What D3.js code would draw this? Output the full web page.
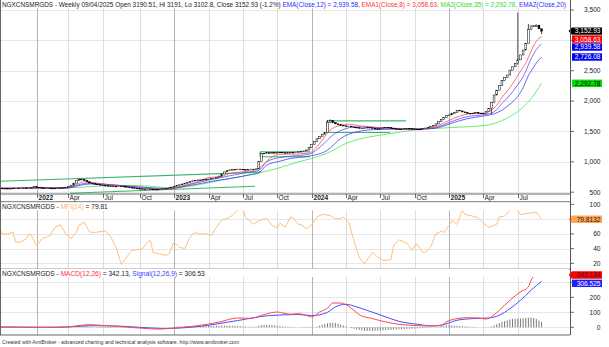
<!DOCTYPE html>
<html><head><meta charset="utf-8">
<script src="https://cdn.jsdelivr.net/npm/d3@7"></script>
<style>
html,body{margin:0;padding:0;background:#fff;}
svg{display:block;font-family:"Liberation Sans",Arial,sans-serif;}
</style></head><body>
<svg id="chart" width="609" height="347"></svg>
<script>
// ---- weekly data (first bar 2021-10-01, last bar 2025-09-04) ----
const closes = [
  565,560,562,558,561,566,568,565,570,573,568,571,576,
  590,582,575,570,566,568,565,562,566,570,568,575,580,
  592,615,650,690,705,712,695,672,650,640,632,625,618,
  612,608,603,600,597,595,600,596,590,585,578,572,566,
  560,556,552,549,553,550,547,545,548,552,556,562,572,
  585,598,610,622,635,648,662,676,688,696,702,700,708,
  712,718,725,732,740,765,800,835,855,868,872,876,880,
  878,872,868,875,880,876,884,1010,1135,1142,1150,1146,1152,
  1148,1154,1158,1150,1146,1152,1156,1150,1160,1166,1172,1180,1195,1240,
  1290,1335,1380,1420,1455,1480,1650,1680,
  1645,1625,1612,1600,1592,1582,1588,1575,1568,1562,1555,1550,1558,1566,1560,1552,1546,1540,
  1548,1560,1568,1562,1554,1546,1540,1534,1538,1544,1550,1546,1542,1538,1536,1534,1545,1556,1570,1585,
  1600,1625,1660,1700,1730,1760,1772,1800,1812,1850,1838,1822,1810,1798,1790,1802,1812,1800,1792,1800,1828,1880,
  1980,2100,2180,2260,2340,2390,2430,2510,2565,2620,2680,2760,2840,2950,3180,3240,3230,3250,3190.51,3152.93
];
const firstOpen = 562;
// weeks whose high / low reach beyond the body
const wickHighs = [[30,725],[31,722],[99,1150],[124,1690],[125,1700],[196,3460],[200,3270],[203,3262],[205,3191]];
const wickLows = [[98,880],[186,1790],[196,2600],[205,3102.8]];

// moving averages as [bar, value]
const ema8 = [[0,566],[6,563],[12,569],[16,576],[22,568],[26,575],[29,630],[32,670],[36,655],[40,628],[46,600],[52,575],[58,553],[64,555],[68,590],[74,660],[79,740],[84,760],[87,808],[94,846],[97,872],[99,930],[103,1082],[106,1125],[110,1126],[117,1145],[121,1302],[125,1522],[129,1604],[132,1620],[136,1595],[140,1576],[148,1550],[152,1545],[158,1541],[162,1550],[165,1580],[168,1640],[172,1720],[176,1780],[180,1800],[184,1805],[186,1850],[188,1930],[190,2060],[193,2220],[196,2420],[198,2560],[199,2620],[200,2720],[201,2820],[202,2909],[203,2985],[204,3031],[205,3058.63]];
const ema12 = [[0,566],[10,567],[16,574],[22,569],[26,572],[30,625],[34,650],[40,632],[46,607],[52,582],[58,560],[64,556],[70,610],[76,670],[79,698],[87,770],[94,830],[98,860],[101,1000],[106,1070],[110,1093],[117,1126],[122,1274],[126,1439],[130,1533],[135,1576],[143,1565],[148,1555],[158,1542],[162,1546],[165,1565],[168,1610],[172,1680],[176,1735],[180,1762],[184,1780],[186,1800],[188,1860],[190,1960],[193,2098],[196,2270],[198,2400],[199,2492],[200,2597],[201,2695],[202,2777],[203,2849],[204,2901],[205,2939.58]];
const ema20 = [[0,566],[10,567],[16,572],[22,569],[26,571],[30,610],[34,635],[40,628],[46,610],[52,590],[58,570],[64,560],[70,595],[79,670],[87,726],[94,780],[98,820],[101,945],[106,1010],[110,1055],[117,1093],[124,1192],[129,1385],[135,1494],[143,1533],[148,1536],[158,1540],[164,1550],[168,1590],[172,1650],[176,1700],[180,1735],[184,1760],[187,1790],[190,1850],[193,1950],[196,2080],[198,2220],[199,2320],[200,2420],[201,2492],[202,2563],[203,2628],[204,2681],[205,2726.08]];
const ma35 = [[0,560],[10,562],[20,568],[30,580],[40,605],[50,612],[56,600],[62,580],[66,572],[72,600],[84,698],[97,808],[105,890],[113,1000],[118,1055],[125,1165],[131,1302],[137,1385],[144,1439],[148,1467],[156,1520],[164,1548],[171,1565],[178,1580],[182,1592],[185,1610],[190,1680],[194,1770],[198,1900],[201,2040],[203,2160],[205,2292.78]];

// money flow index as [bar, value]
const mfi = [[0,67],[1,60],[3,60],[5,62.5],[6,49],[8,49],[10,53.5],[11,60],[12,58],[14,44],[16,53.5],[18,56],[19,58],[21,69],[23,72.4],[25,60],[27,53.5],[29,62.5],[30,71.5],[32,76],[34,62.5],[36,62],[40,64],[42,56],[44,42],[46,18.6],[48,28.5],[50,37.6],[54,40],[56,49],[57,51],[58,35],[60,33],[63,31],[64,33],[66,49],[68,42],[70,40],[72,56],[74,62.5],[75,60],[78,60],[80,58],[82,69],[84,79],[86,81],[88,85],[90,92],[92,94],[93,83],[96,73],[98,78],[101,81],[103,71.5],[105,68],[106,74.6],[108,69],[110,83],[111,82],[113,73],[114,73],[116,67],[118,72],[120,83],[122,86.4],[125,85],[127,80.6],[129,80.6],[130,83],[132,76],[134,51],[136,28.5],[138,19.6],[141,35],[143,28.5],[145,24],[148,25],[149,44],[151,52],[154,47.5],[156,37.6],[157,44],[158,46],[160,35],[161,35],[163,42],[165,60],[167,63.6],[168,62],[170,71.5],[171,78],[173,73],[175,92],[176,86.4],[178,85],[181,82],[183,74.6],[185,69],[188,73],[189,83],[191,84],[193,92],[195,95.5],[197,86.4],[200,88],[203,89.6],[205,79.81]];

// MACD(12,26) and Signal(12,26,9) as [bar, value]
const macd = [[0,2],[15,0],[26,3],[30,12],[34,18],[37,15],[45,5],[53,-5],[60,-12],[66,-5],[72,5],[75,11],[83,35],[90,62],[95,60],[100,85],[105,102],[110,87],[113,91],[116,80],[118,69],[121,102],[124,127],[126,162],[129,162],[131,151],[134,113],[136,84],[141,58],[146,36],[151,20],[156,13],[162,9],[167,13],[169,36],[173,58],[177,64],[181,62],[184,55],[185,60],[189,113],[193,180],[197,236],[200,269],[201,313],[203,347],[205,342.13]];
const signal = [[0,2],[22,0],[34,10],[41,10],[53,0],[62,-8],[68,-5],[75,5],[90,45],[102,78],[113,85],[118,78],[124,100],[127,136],[131,153],[135,136],[139,113],[145,76],[151,40],[158,20],[164,9],[168,18],[173,47],[179,58],[185,62],[189,80],[193,124],[197,180],[201,247],[205,306.53]];
// weekly MACD histogram
const macdHist = [
  0,1,0,-1,0,1,1,0,-1,0,0,1,1,0,-1,-1,0,0,1,0,0,-1,0,1,2,3,
  4,6,8,9,10,9,8,6,4,2,0,-2,-3,-4,-4,
  -4,-4,-3,-3,-2,-2,-2,-1,-1,-1,-2,-2,-3,-3,-3,-2,-2,-1,-1,0,0,0,1,1,
  2,3,4,5,5,6,6,6,7,7,8,8,9,9,9,10,10,10,10,10,11,11,11,10,10,9,
  8,6,5,4,3,3,5,10,14,16,16,15,14,12,10,8,6,5,4,3,2,1,
  0,-1,-2,-3,-3,-2,0,4,
  10,16,22,27,30,30,28,24,18,12,6,0,-5,
  -10,-14,-18,-21,-23,-24,-24,-24,-23,-22,-21,-20,-19,-18,-17,-16,-15,-14,-13,-12,-11,-10,-9,-8,-7,-6,-5,-4,-3,-2,
  0,2,5,8,10,12,12,11,10,9,8,7,6,5,4,3,2,1,0,-1,-2,-1,
  5,12,20,28,36,42,47,52,55,57,58,59,60,62,63,65,62,55,45,36
];

// user-drawn trend lines and ranges: [bar1, price1, bar2, price2]
const studyLines = [
  [0,681,99,830],
  [26.6,483,96.6,599],
  [98.5,1083,117.4,1083],[98.5,1165,117.4,1165],[98.5,1083,98.5,1165],
  [123.8,1675,153.7,1675],[123.8,1484,147.7,1484],[123.8,1484,123.8,1675]
];

const priceTicks = [500,1000,1500,2000,2500,3000,3500];
const mfiTicks = [20,40,60,80,100];
const macdTicks = [0,100,200,300];
// axis labels that sit under the value markers are not printed
const hiddenLabels = new Set(["p3000","m80","d300"]);
const monthNames = ["Jan","Feb","Mar","Apr","May","Jun","Jul","Aug","Sep","Oct","Nov","Dec"];

// ---- bar dates ----
const N = closes.length;
const DAY = 86400000;
const lastFriday = new Date(2025,7,29);
const dates = closes.map((c,i) => i === N-1 ? new Date(2025,8,4) : new Date(lastFriday.getTime() - 7*DAY*(N-2-i)));

// ---- layout ----
const W = 609, H = 347, R = 570;
const svg = d3.select("#chart");
const x = d3.scaleLinear().domain([0, N-1]).range([-0.3, 541.6]);
const yP = d3.scaleLinear().domain([500,3500]).range([192.2,10]);
const yM = d3.scaleLinear().domain([20,100]).range([263.4,204.4]);
const yD = d3.scaleLinear().domain([0,300]).range([327.3,282.3]);

const panels = {
  price:{top:0,bottom:194},
  mfi:{top:202,bottom:268.8},
  macd:{top:269.8,bottom:335}
};
const defs = svg.append("defs");
Object.entries(panels).forEach(([k,p]) => {
  defs.append("clipPath").attr("id","clip-"+k).append("rect")
    .attr("x",0).attr("y",p.top).attr("width",R).attr("height",p.bottom-p.top);
});

svg.append("rect").attr("width",W).attr("height",H).attr("fill","#fff");

// month ticks (quarters)
const qTicks = [];
for (let i = 1; i < N; i++) {
  const m = dates[i].getMonth();
  if (m !== dates[i-1].getMonth() && m % 3 === 0) {
    qTicks.push({i, year: m === 0, label: m === 0 ? String(dates[i].getFullYear()) : monthNames[m]});
  }
}

// grids
function grid(panel, scale, ticks) {
  const g = svg.append("g").attr("clip-path","url(#clip-"+panel+")");
  const p = panels[panel];
  g.selectAll("line.h").data(ticks).join("line")
    .attr("x1",0).attr("x2",R).attr("y1",d=>Math.round(scale(d))+0.5).attr("y2",d=>Math.round(scale(d))+0.5)
    .attr("stroke","#e6e6e6").attr("stroke-width",1);
  g.selectAll("line.v").data(qTicks).join("line")
    .attr("x1",d=>Math.round(x(d.i))+0.5).attr("x2",d=>Math.round(x(d.i))+0.5)
    .attr("y1",p.top).attr("y2",p.bottom)
    .attr("stroke",d=>d.year ? "#b4b4b4" : "#dedede").attr("stroke-width",1);
  return g;
}
const gP = grid("price", yP, priceTicks);
const gM = grid("mfi", yM, mfiTicks);
const gD = grid("macd", yD, macdTicks);

// study lines
gP.selectAll("line.study").data(studyLines).join("line")
  .attr("x1",d=>x(d[0])).attr("y1",d=>yP(d[1])).attr("x2",d=>x(d[2])).attr("y2",d=>yP(d[3]))
  .attr("stroke","#3cb371").attr("stroke-width",1.1);

// moving averages
const lineP = d3.line().x(d=>x(d[0])).y(d=>yP(d[1])).curve(d3.curveMonotoneX);
[[ma35,"#33e633"],[ema20,"#2b2bff"],[ema12,"#4040ff"],[ema8,"#ff3a3a"]].forEach(([s,c]) => {
  gP.append("path").attr("d",lineP(s)).attr("fill","none").attr("stroke",c).attr("stroke-width",0.9).attr("opacity",0.8);
});

// candles
const hiMap = new Map(wickHighs), loMap = new Map(wickLows);
const bars = closes.map((c,i) => {
  const o = i === 0 ? firstOpen : closes[i-1];
  const hi = hiMap.has(i) ? hiMap.get(i) : Math.max(o,c);
  const lo = loMap.has(i) ? loMap.get(i) : Math.min(o,c);
  return {i,o,c,hi,lo};
});
const gC = gP.append("g");
gC.selectAll("line.wick").data(bars).join("line")
  .attr("x1",d=>x(d.i)).attr("x2",d=>x(d.i)).attr("y1",d=>yP(d.hi)).attr("y2",d=>yP(d.lo))
  .attr("stroke","#000").attr("stroke-width",0.7);
gC.selectAll("rect.body").data(bars).join("rect")
  .attr("x",d=>x(d.i)-0.9).attr("width",1.8)
  .attr("y",d=>yP(Math.max(d.o,d.c)))
  .attr("height",d=>Math.max(0.6, yP(Math.min(d.o,d.c)) - yP(Math.max(d.o,d.c))))
  .attr("fill",d=>d.c >= d.o ? "#fff" : "#000").attr("stroke","#000").attr("stroke-width",0.5);

// MFI
gM.append("path").attr("d",d3.line().x(d=>x(d[0])).y(d=>yM(d[1]))(mfi))
  .attr("fill","none").attr("stroke","#ffbf82").attr("stroke-width",1);

// MACD
gD.selectAll("line.hist").data(macdHist).join("line")
  .attr("x1",(d,i)=>x(i)).attr("x2",(d,i)=>x(i)).attr("y1",yD(0)).attr("y2",d=>yD(d))
  .attr("stroke","#555").attr("stroke-width",0.8);
const lineD = d3.line().x(d=>x(d[0])).y(d=>yD(d[1])).curve(d3.curveMonotoneX);
gD.append("path").attr("d",lineD(signal)).attr("fill","none").attr("stroke","#4a4aff").attr("stroke-width",1);
gD.append("path").attr("d",lineD(macd)).attr("fill","none").attr("stroke","#ff4a4a").attr("stroke-width",1);

// date strip
svg.append("rect").attr("x",0).attr("y",194).attr("width",R).attr("height",7.8).attr("fill","#fff");
svg.selectAll("line.dtick").data(qTicks).join("line")
  .attr("x1",d=>Math.round(x(d.i))+0.5).attr("x2",d=>Math.round(x(d.i))+0.5).attr("y1",194).attr("y2",198)
  .attr("stroke","#444").attr("stroke-width",0.8);
svg.selectAll("text.dlab").data(qTicks).join("text")
  .attr("x",d=>Math.round(x(d.i))+1.5).attr("y",200.3)
  .attr("font-size",6.6).attr("font-weight",d=>d.year ? "bold" : "normal").attr("fill","#222")
  .text(d=>d.label);

// frame lines
const frame = [[0,194,R,194],[0,201.8,R,201.8],[0,269.2,R,269.2],[0,335,R,335],[0.5,0,0.5,335],[R+0.5,0,R+0.5,335]];
svg.selectAll("line.frame").data(frame).join("line")
  .attr("x1",d=>d[0]).attr("y1",d=>d[1]).attr("x2",d=>d[2]).attr("y2",d=>d[3])
  .attr("stroke","#555").attr("stroke-width",0.9);

// right axis
function axisLabels(scale, ticks, key, fmt) {
  svg.selectAll(null).data(ticks).join("line")
    .attr("x1",R).attr("x2",R+4).attr("y1",d=>scale(d)).attr("y2",d=>scale(d))
    .attr("stroke","#444").attr("stroke-width",0.8);
  svg.selectAll(null).data(ticks.filter(d => !hiddenLabels.has(key+d))).join("text")
    .attr("x",600.5).attr("y",d=>scale(d)+2.3).attr("text-anchor","end")
    .attr("font-size",6.6).attr("fill","#222").text(fmt);
}
axisLabels(yP, priceTicks, "p", d3.format(","));
axisLabels(yM, mfiTicks, "m", d=>d);
axisLabels(yD, macdTicks, "d", d=>d);

// value markers
function marker(yc, text, bg, fg, arrow) {
  const g = svg.append("g");
  const h = 7.4, x0 = 572;
  if (arrow) {
    g.append("path").attr("d",`M${x0-3.5},${yc} L${x0},${yc-h/2} L${x0+30},${yc-h/2} L${x0+30},${yc+h/2} L${x0},${yc+h/2} Z`).attr("fill",bg);
  } else {
    g.append("rect").attr("x",x0).attr("y",yc-h/2).attr("width",30).attr("height",h).attr("fill",bg);
  }
  g.append("text").attr("x",x0+28.5).attr("y",yc+2.4).attr("text-anchor","end")
    .attr("font-size",6.6).attr("fill",fg).text(text);
}
const lastClose = closes[N-1];
marker(yP(lastClose), d3.format(",.2f")(lastClose), "#000", "#fff", true);
marker(yP(3058.63)+2.3, "3,058.63", "#f00", "#fff", false);
marker(yP(2939.58)+3, "2,939.58", "#0000f0", "#fff", false);
marker(yP(2726.08), "2,726.08", "#0000f0", "#fff", false);
marker(yP(2292.78), "2,292.78", "#00e000", "#000", false);
marker(yM(79.8132), "79.8132", "#ffa552", "#222", true);
marker(yD(342.134)-1, "342.134", "#f00", "#222", true);
marker(yD(306.525)+2, "306.525", "#1e1eff", "#fff", false);

// pane titles; the long price title is sized to end inside the plot
function header(y, parts, maxWidth) {
  const g = svg.append("g");
  g.append("rect").attr("x",1).attr("y",y-6.5).attr("width",R-2).attr("height",8).attr("fill","#fff");
  let fs = 6.6;
  const t = g.append("text").attr("x",2).attr("y",y).attr("font-size",fs).attr("fill","#222");
  parts.forEach(([s,c]) => t.append("tspan").attr("fill",c).text(s));
  if (maxWidth) {
    while (t.node().getComputedTextLength() > maxWidth && fs > 5) {
      fs -= 0.05;
      t.attr("font-size",fs);
    }
  }
}
header(6.8, [
  ["NGXCNSMRGDS - Weekly 09/04/2025 Open 3190.51, Hi 3191, Lo 3102.8, Close 3152.93 (-1.2%) ","#222"],
  ["EMA(Close,12) = 2,939.58, ","#2b2bff"],
  ["EMA1(Close,8) = 3,058.63, ","#ff3030"],
  ["MA2(Close,35) = 2,292.78, ","#2ed62e"],
  ["EMA2(Close,20)","#2b2bff"]
], R - 5);
header(209, [["NGXCNSMRGDS - ","#222"],["MFI(14)","#ffb070"],[" = 79.81","#222"]]);
header(275.5, [["NGXCNSMRGDS - ","#222"],["MACD(12,26)","#ff3030"],[" = 342.13, ","#222"],["Signal(12,26,9)","#3a3aff"],[" = 306.53","#222"]]);
svg.append("line").attr("x1",R+0.5).attr("x2",R+0.5).attr("y1",0).attr("y2",335).attr("stroke","#555").attr("stroke-width",0.9);

// footer
svg.append("text").attr("x",2).attr("y",343.5).attr("font-size",5.2).attr("fill","#333")
  .text("Created with AmiBroker - advanced charting and technical analysis software. http://www.amibroker.com");
</script>
</body></html>
